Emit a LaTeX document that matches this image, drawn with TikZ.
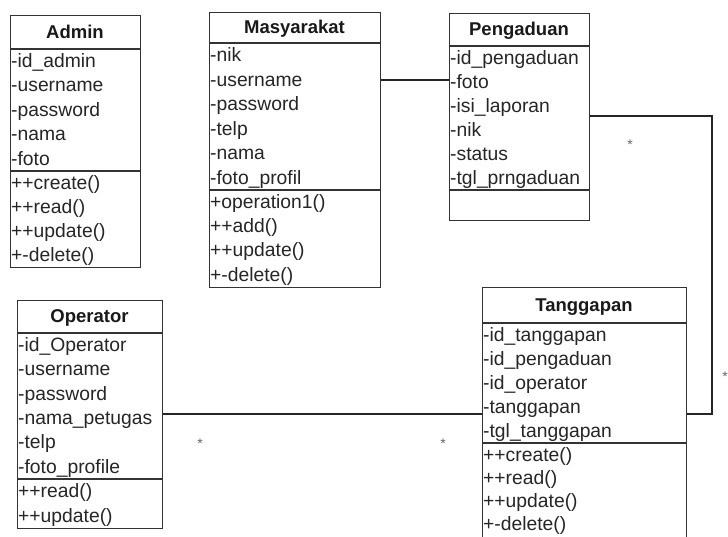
\documentclass[tikz,border=0pt]{standalone}
\usepackage{fontspec}
\setmainfont{Liberation Sans}
\begin{document}
\begin{tikzpicture}[x=1pt,y=-1pt,
  box/.style={draw=black!80, line width=1.3pt, anchor=north west, inner sep=0pt, fill=white},
  sep/.style={draw=black!80, line width=1.3pt},
  conn/.style={draw=black!85, line width=1.2pt},
  title/.style={anchor=base, inner sep=0pt, text=black!90, font=\fontsize{18.5}{20}\selectfont\bfseries},
  attr/.style={anchor=base west, inner sep=0pt, text=black!85, font=\fontsize{19.3}{22}\selectfont},
  star/.style={inner sep=0pt, text=black!60, font=\fontsize{14}{14}\selectfont}]
\path[use as bounding box, clip] (0,0) rectangle (728,536);
\fill[white] (0,0) rectangle (728,536);

% Admin
\node[box, minimum width=130, minimum height=252] (admin) at (10,15) {};
\draw[sep] (10,49) -- (140,49);
\draw[sep] (10,171) -- (140,171);
\node[title] (admint) at (75,38.3) {Admin};
\foreach \t [count=\i] in {-id\_admin,-username,-password,-nama,-foto}
  \node[attr] (admina\i) at (11,{49+24.4*\i-5.9}) {\t};
\foreach \t [count=\i] in {++create(),++read(),++update(),+-delete()}
  \node[attr] (adminm\i) at (11,{171+24*\i-5.5}) {\t};

% Masyarakat
\node[box, minimum width=171, minimum height=275] (masy) at (209,12) {};
\draw[sep] (209,43) -- (380,43);
\draw[sep] (209,190) -- (380,190);
\node[title] (masyt) at (294.5,33.8) {Masyarakat};
\foreach \t [count=\i] in {-nik,-username,-password,-telp,-nama,-foto\_profil}
  \node[attr] (masya\i) at (210,{43+24.5*\i-6}) {\t};
\foreach \t [count=\i] in {+operation1(),++add(),++update(),+-delete()}
  \node[attr] (masym\i) at (210,{190+24.25*\i-5.8}) {\t};

% Pengaduan
\node[box, minimum width=140, minimum height=207] (peng) at (449,13) {};
\draw[sep] (449,46) -- (589,46);
\draw[sep] (449,190) -- (589,190);
\node[title] (pengt) at (519,35.8) {Pengaduan};
\foreach \t [count=\i] in {-id\_pengaduan,-foto,-isi\_laporan,-nik,-status,-tgl\_prngaduan}
  \node[attr] (penga\i) at (450,{46+24*\i-5.5}) {\t};

% Operator
\node[box, minimum width=145, minimum height=228] (oper) at (17,300) {};
\draw[sep] (17,333) -- (162,333);
\draw[sep] (17,479) -- (162,479);
\node[title] (opert) at (89.5,322.8) {Operator};
\foreach \t [count=\i] in {-id\_Operator,-username,-password,-nama\_petugas,-telp,-foto\_profile}
  \node[attr] (opera\i) at (18,{333+24.3*\i-5.8}) {\t};
\foreach \t [count=\i] in {++read(),++update()}
  \node[attr] (operm\i) at (18,{479+24.5*\i-6}) {\t};

% Tanggapan
\node[box, minimum width=204, minimum height=253] (tang) at (482,287) {};
\draw[sep] (482,323) -- (686,323);
\draw[sep] (482,443) -- (686,443);
\node[title] (tangt) at (584,311.3) {Tanggapan};
\foreach \t [count=\i] in {-id\_tanggapan,-id\_pengaduan,-id\_operator,-tanggapan,-tgl\_tanggapan}
  \node[attr] (tanga\i) at (483,{323+24*\i-5.5}) {\t};
\foreach \t [count=\i] in {++create(),++read(),++update(),+-delete()}
  \node[attr] (tangm\i) at (483,{443+23*\i-4.5}) {\t};

% connectors
\coordinate (corner) at (712,116);
\draw[conn] (masy.east |- 0,80) -- (peng.west |- 0,80);
\draw[conn] (peng.east |- 0,116) -- (corner) |- (tang.east |- 0,414);
\draw[conn] (oper.east |- 0,414) -- (tang.west |- 0,414);

% multiplicities
\node[star] (s1) at (630,145) {*};
\node[star] (s2) at (725,377) {*};
\node[star] (s3) at (200,444) {*};
\node[star] (s4) at (443,444) {*};
\end{tikzpicture}
\end{document}
